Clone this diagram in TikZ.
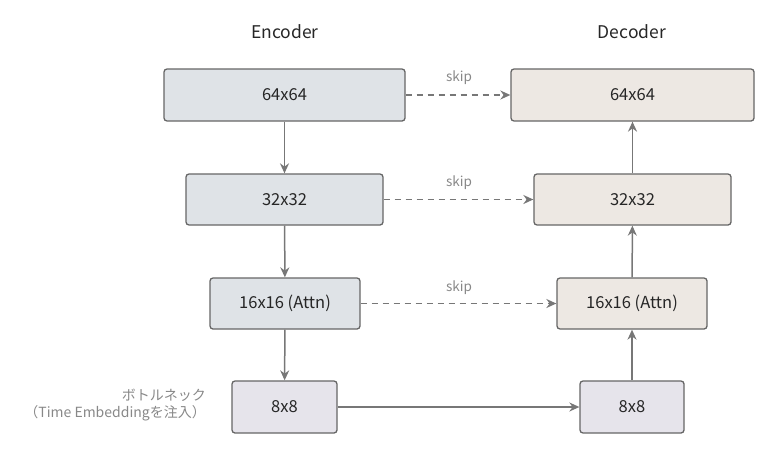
\documentclass[tikz,border=0pt]{standalone}
\usepackage{fontspec}
\setmainfont{Noto Sans CJK JP}
\usetikzlibrary{arrows.meta}
\definecolor{encfill}{HTML}{DFE3E7}
\definecolor{decfill}{HTML}{EDE8E3}
\definecolor{botfill}{HTML}{E6E4EB}
\definecolor{edge}{HTML}{666666}
\definecolor{arr}{HTML}{777777}
\definecolor{lbl}{HTML}{888888}
\tikzset{
  blk/.style={draw=edge, line width=1.3pt, rounded corners=3pt, inner sep=0pt, font=\fontsize{16.5}{19}\selectfont, text=black!85},
  enc/.style={blk, fill=encfill},
  dec/.style={blk, fill=decfill},
  bot/.style={blk, fill=botfill},
  flow/.style={draw=arr, line width=1.5pt, -{Stealth[length=10pt,width=9pt]}},
  skipline/.style={flow, dash pattern=on 6pt off 5pt},
  skiplbl/.style={text=lbl, font=\fontsize{13.5}{16}\selectfont},
  title/.style={font=\fontsize{17.5}{20}\selectfont, text=black!85}
}
\begin{document}
\begin{tikzpicture}[x=1pt,y=-1pt]
\useasboundingbox (0,0) rectangle (771,450);
\node[title] (tenc) at (285,32) {Encoder};
\node[title] (tdec) at (632,32) {Decoder};
\node[enc, minimum width=241pt, minimum height=52pt] (e1) at (284.5,95) {64x64};
\node[enc, minimum width=197pt, minimum height=51pt] (e2) at (284.5,199.5) {32x32};
\node[enc, minimum width=150pt, minimum height=51pt] (e3) at (285,303.5) {16x16 (Attn)};
\node[bot, minimum width=105pt, minimum height=52pt] (e4) at (284.5,407) {8x8};
\node[dec, minimum width=243pt, minimum height=52pt] (d1) at (632.5,95) {64x64};
\node[dec, minimum width=197pt, minimum height=51pt] (d2) at (632.5,199.5) {32x32};
\node[dec, minimum width=150pt, minimum height=51pt] (d3) at (632,303.5) {16x16 (Attn)};
\node[bot, minimum width=104pt, minimum height=52pt] (d4) at (632,407) {8x8};
\draw[flow] (e1.south -| e2.north) -- (e2.north);
\draw[flow] (e2) -- (e3);
\draw[flow] (e3) -- (e4);
\draw[flow] (e4) -- (d4);
\draw[flow] (d4) -- (d3);
\draw[flow] (d3) -- (d2);
\draw[flow] (d2) -- (d1);
\draw[skipline] (e1) -- (d1);
\draw[skipline] (e2) -- (d2);
\draw[skipline] (e3) -- (d3);
\node[skiplbl] (s1) at (459,78) {skip};
\node[skiplbl] (s2) at (459,183) {skip};
\node[skiplbl] (s3) at (459,288) {skip};
\node[text=lbl, font=\fontsize{14}{17}\selectfont, align=right, anchor=east, inner sep=0pt] (bl) at (206,405) {ボトルネック\\（Time Embeddingを注入）};
\end{tikzpicture}
\end{document}
